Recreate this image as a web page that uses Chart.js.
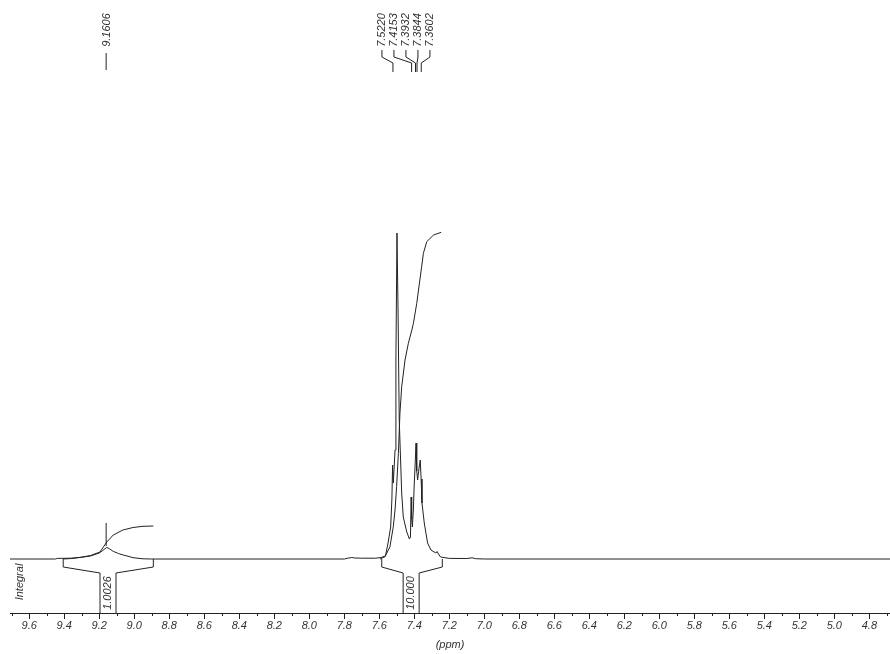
<!DOCTYPE html>
<html>
<head>
<meta charset="utf-8">
<script src="https://cdn.jsdelivr.net/npm/chart.js@4.4.0/dist/chart.umd.min.js"></script>
<style>
  html, body { margin: 0; padding: 0; background: #fff; }
</style>
</head>
<body>
<canvas id="nmr" width="890" height="654"></canvas>
<script>
// 1H spectrum (ppm / intensity in arbitrary units)
const spectrumPpm = [9.71, 9.45, 9.44, 9.36, 9.30, 9.25, 9.20, 9.18, 9.157, 9.14, 9.12, 9.09, 9.064, 9.03, 9.007, 8.95, 8.90,
  7.80, 7.78, 7.757, 7.74, 7.70, 7.62, 7.59, 7.578, 7.565, 7.55, 7.535, 7.528, 7.524, 7.520, 7.514, 7.51, 7.505, 7.499,
  7.493, 7.486, 7.472, 7.463, 7.443, 7.428, 7.422, 7.418, 7.415, 7.411, 7.405, 7.401, 7.395, 7.390, 7.386, 7.381,
  7.372, 7.366, 7.361, 7.356, 7.343, 7.324, 7.305, 7.277, 7.270, 7.262, 7.25, 7.20, 7.10, 7.07, 7.05, 7.00, 4.682];
const spectrumInt = [0, 0, 0.6, 0.8, 1.8, 3, 6, 8.5, 11.6, 10, 7.6, 5.5, 4, 2.5, 1.3, 0.2, 0,
  0, 0.8, 1.5, 1, 0.8, 0.8, 1.5, 2.3, 3, 16, 32, 60, 94, 76, 95, 109, 200, 326,
  250, 139, 66, 42, 27, 20, 22, 62, 40, 32, 50, 72, 95, 116, 88, 79,
  92, 99, 80, 56, 36, 16, 9, 6, 7.5, 5, 2, 0.6, 0.5, 1.2, 0.3, 0, 0];

// integral curves
const integral1Ppm = [9.406, 9.356, 9.30, 9.25, 9.196, 9.157, 9.12, 9.065, 9.007, 8.95, 8.891];
const integral1Val = [0, 0.5, 1.8, 3.5, 7, 17, 24, 29, 31.5, 32.7, 33];
const integral2Ppm = [7.596, 7.567, 7.539, 7.520, 7.510, 7.501, 7.491, 7.482, 7.472, 7.453, 7.434, 7.414, 7.405,
  7.386, 7.358, 7.348, 7.329, 7.290, 7.246];
const integral2Val = [0, 2.3, 12.3, 32.3, 49, 72.3, 105.7, 145.7, 172.3, 199, 215.7, 229, 235.7,
  255.7, 292.3, 305.7, 317.3, 324, 326.7];

// integral regions (bottom brackets)
const integralFrom = [9.406, 7.586];
const integralTo = [8.891, 7.240];
const integralMid = [9.15, 7.418];
const integralText = ['1.0026', '10.000'];

// peak picking
const peakShifts = [9.1606, 7.5220, 7.4153, 7.3932, 7.3844, 7.3602];

const lineColor = '#222';
const textColor = '#333';
const font = 'italic 11px "Liberation Sans", Arial, sans-serif';

const isMajor = v => Math.round(v * 10) % 2 === 0;

function vText(ctx, str, cx, cy) {
  ctx.save();
  ctx.translate(cx, cy);
  ctx.rotate(-Math.PI / 2);
  ctx.textAlign = 'center';
  ctx.textBaseline = 'middle';
  ctx.fillText(str, 0, 0);
  ctx.restore();
}

const nmrMarks = {
  id: 'nmrMarks',
  afterDraw(chart) {
    const { ctx, scales: { x, y } } = chart;
    ctx.save();
    ctx.strokeStyle = lineColor;
    ctx.lineWidth = 1;
    ctx.fillStyle = textColor;
    ctx.font = font;

    // axis ticks, long on the labelled ones
    ctx.beginPath();
    x.ticks.forEach(t => {
      const px = Math.round(x.getPixelForValue(t.value)) + 0.5;
      ctx.moveTo(px, x.top);
      ctx.lineTo(px, x.top + (isMajor(t.value) ? 6 : 3));
    });
    ctx.stroke();

    // integral brackets under the baseline
    const y0 = y.getPixelForValue(0);
    integralFrom.forEach((from, i) => {
      const xl = x.getPixelForValue(from);
      const xr = x.getPixelForValue(integralTo[i]);
      const xc = x.getPixelForValue(integralMid[i]);
      ctx.beginPath();
      ctx.moveTo(xl, y0); ctx.lineTo(xl, y0 + 8); ctx.lineTo(xc - 8, y0 + 14); ctx.lineTo(xc - 8, x.top);
      ctx.moveTo(xr, y0); ctx.lineTo(xr, y0 + 8); ctx.lineTo(xc + 8, y0 + 14); ctx.lineTo(xc + 8, x.top);
      ctx.stroke();
      vText(ctx, integralText[i], xc, (y0 + 14 + x.top) / 2);
    });
    vText(ctx, 'Integral', 20, 582);

    // marker over the 9.16 peak
    const pm = x.getPixelForValue(peakShifts[0]);
    ctx.beginPath();
    ctx.moveTo(pm, y.getPixelForValue(36));
    ctx.lineTo(pm, y.getPixelForValue(13));
    ctx.stroke();

    // peak labels, grouped when close together
    const groups = [];
    peakShifts.forEach(p => {
      const px = x.getPixelForValue(p);
      const g = groups[groups.length - 1];
      if (g && px - g[g.length - 1].px < 30) g.push({ p, px });
      else groups.push([{ p, px }]);
    });
    groups.forEach(g => {
      if (g.length === 1) {
        const { p, px } = g[0];
        ctx.beginPath();
        ctx.moveTo(px, 53); ctx.lineTo(px, 70);
        ctx.stroke();
        vText(ctx, p.toFixed(4), px + 1, 30);
      } else {
        g.forEach(({ p, px }, i) => {
          const lx = g[0].px - 11 + 12 * i;
          ctx.beginPath();
          ctx.moveTo(lx, 50); ctx.lineTo(lx, 57); ctx.lineTo(px, 63); ctx.lineTo(px, 72);
          ctx.stroke();
          vText(ctx, p.toFixed(4), lx, 30);
        });
      }
    });
    ctx.restore();
  }
};

const toPoints = (xs, ys) => xs.map((v, i) => ({ x: v, y: ys[i] }));

new Chart(document.getElementById('nmr'), {
  type: 'line',
  data: {
    datasets: [
      { data: toPoints(spectrumPpm, spectrumInt), borderColor: lineColor },
      { data: toPoints(integral1Ppm, integral1Val), borderColor: lineColor },
      { data: toPoints(integral2Ppm, integral2Val), borderColor: lineColor }
    ]
  },
  options: {
    responsive: false,
    animation: false,
    devicePixelRatio: 1,
    layout: { padding: { left: 10, right: 0, top: 0, bottom: 0 } },
    elements: {
      point: { radius: 0 },
      line: { borderWidth: 1, tension: 0, fill: false }
    },
    plugins: { legend: { display: false }, tooltip: { enabled: false } },
    scales: {
      x: {
        type: 'linear',
        reverse: true,
        min: 4.682,
        max: 9.71,
        afterFit: s => { s.height = 41; },
        border: { display: true, color: lineColor, width: 1 },
        grid: { display: true, drawOnChartArea: false, tickLength: 6, tickColor: 'rgba(0,0,0,0)' },
        ticks: {
          stepSize: 0.1,
          includeBounds: false,
          autoSkip: false,
          maxRotation: 0,
          padding: 0,
          color: textColor,
          font: { family: '"Liberation Sans", Arial, sans-serif', size: 11, style: 'italic' },
          callback: v => isMajor(v) ? v.toFixed(1) : ''
        },
        title: {
          display: true,
          text: '(ppm)',
          color: textColor,
          padding: { top: 0, bottom: 2 },
          font: { family: '"Liberation Sans", Arial, sans-serif', size: 11, style: 'italic' }
        }
      },
      y: { display: false, min: -54, max: 559 }
    }
  },
  plugins: [nmrMarks]
});
</script>
</body>
</html>
